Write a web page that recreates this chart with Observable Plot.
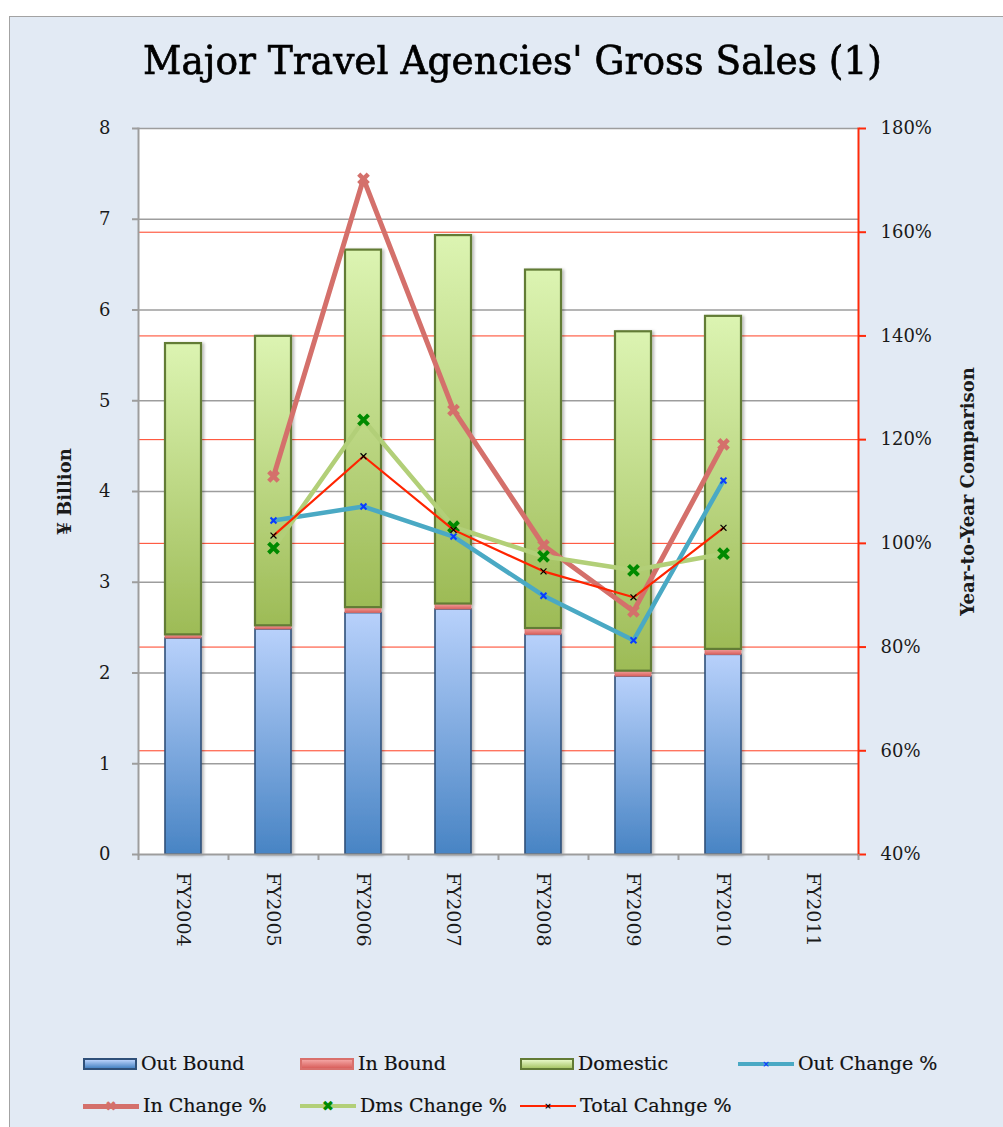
<!DOCTYPE html>
<html>
<head>
<meta charset="utf-8">
<script src="https://cdn.jsdelivr.net/npm/d3@7"></script>
<script src="https://cdn.jsdelivr.net/npm/@observablehq/plot@0.6"></script>
<style>
  html, body { margin: 0; padding: 0; background: #ffffff; overflow: hidden; }
  body { width: 1003px; height: 1127px; position: relative; font-family: "DejaVu Serif", serif; color: #111; }
  #frame { position: absolute; left: 9px; top: 16px; width: 1100px; height: 1200px; background: #e2eaf4;
           border-left: 1.5px solid #a3a3a3; border-top: 1.5px solid #a3a3a3; }
  #title { position: absolute; left: 143px; top: 36px; white-space: nowrap; font-size: 40px; line-height: 48px;
           transform-origin: 0 0; color: #000; -webkit-text-stroke: 0.7px #000; }
  #chart { position: absolute; left: 0; top: 100px; }
  .lg { position: absolute; font-size: 19px; line-height: 22px; white-space: nowrap; color: #111; -webkit-text-stroke: 0.2px #111; }
  .sw { position: absolute; box-sizing: border-box; }
  .ln { position: absolute; }
  .mk { position: absolute; font-family: "DejaVu Sans", sans-serif; font-weight: bold; text-align: center; }
</style>
</head>
<body>
<div id="frame"></div>
<div id="title">Major Travel Agencies' Gross Sales (1)</div>
<div id="chart"></div>
<div id="legend"></div>
<script>
// ---------- data ----------
const years = ["FY2004", "FY2005", "FY2006", "FY2007", "FY2008", "FY2009", "FY2010", "FY2011"];
const outBound = [2.38, 2.48, 2.66, 2.70, 2.42, 1.96, 2.20];
const inBound  = [0.04, 0.04, 0.06, 0.06, 0.07, 0.06, 0.06];
const domestic = [3.21, 3.19, 3.94, 4.06, 3.95, 3.74, 3.67];

const changeYears = ["FY2005", "FY2006", "FY2007", "FY2008", "FY2009", "FY2010"];
const outChange   = [104.4, 107.1, 101.3, 89.9, 81.3, 112.1];
const inChange    = [112.9, 170.3, 125.7, 99.6, 86.9, 119.1];
const dmsChange   = [99.1, 123.8, 103.2, 97.5, 94.8, 98.0];
const totalChange = [101.5, 116.8, 102.6, 94.6, 89.6, 103.0];

const leftTicks = [0, 1, 2, 3, 4, 5, 6, 7, 8];
const pctTicks  = [40, 60, 80, 100, 120, 140, 160, 180];

const barSeries  = ["Out Bound", "In Bound", "Domestic"];
const lineSeries = ["Out Change %", "In Change %", "Dms Change %", "Total Cahnge %"];

// ---------- helpers ----------
// right axis (percent, 40..180) mapped onto left axis units (0..8)
const pMin = pctTicks[0], pMax = pctTicks[pctTicks.length - 1], yMax = leftTicks[leftTicks.length - 1];
const toY = p => (p - pMin) / (pMax - pMin) * yMax;
const fromY = v => v / yMax * (pMax - pMin) + pMin;

const barValues = [outBound, inBound, domestic];
const barRows = [];
years.forEach((yr, i) => {
  barSeries.forEach((s, k) => {
    if (barValues[k][i] != null) barRows.push({year: yr, series: s, value: barValues[k][i]});
  });
});
const fillBy = {"Out Bound": "url(#gOut)", "In Bound": "url(#gIn)", "Domestic": "url(#gDom)"};
const strokeBy = {"Out Bound": "#2f5079", "In Bound": "#d9706c", "Domestic": "#627b35"};

const rowsOf = vals => changeYears.map((yr, i) => ({year: yr, v: toY(vals[i])}));

const lineStyle = {
  "Out Change %":   {vals: outChange,   line: "#4aa9c4", lw: 4.5, mk: "#0a3cff", r: 2.8, mw: 2},
  "In Change %":    {vals: inChange,    line: "#d4706b", lw: 5,   mk: "#d4706b", r: 4.4, mw: 4.5},
  "Dms Change %":   {vals: dmsChange,   line: "#b2cf78", lw: 4.5, mk: "#008a00", r: 4.6, mw: 4},
  "Total Cahnge %": {vals: totalChange, line: "#ff2400", lw: 2.2, mk: "#000000", r: 2.8, mw: 1.2}
};

const lineMarks = [];
lineSeries.forEach(s => {
  const st = lineStyle[s];
  const rows = rowsOf(st.vals);
  lineMarks.push(Plot.line(rows, {x: "year", y: "v", stroke: st.line, strokeWidth: st.lw, strokeLinejoin: "round"}));
  lineMarks.push(Plot.dot(rows, {x: "year", y: "v", symbol: "times", r: st.r, stroke: st.mk, strokeWidth: st.mw}));
});

const gray = "#9d9d9d", red = "#ff2a0a";

const chart = Plot.plot({
  width: 1003,
  height: 940,
  marginLeft: 138,
  marginRight: 145,
  marginTop: 28,
  marginBottom: 186,
  style: {background: "transparent", fontFamily: "'DejaVu Serif', serif", fontSize: "18px", color: "#1a1a1a", overflow: "visible"},
  x: {type: "band", domain: years, paddingInner: 0.6, paddingOuter: 0.3, axis: null},
  y: {domain: [0, 8], axis: null},
  color: {type: "identity"},
  marks: [
    Plot.frame({fill: "white", stroke: "none"}),
    Plot.ruleY(pctTicks.slice(1, -1).map(toY), {stroke: red, strokeWidth: 1, strokeOpacity: 0.9}),
    Plot.ruleY(leftTicks.slice(1), {stroke: gray, strokeWidth: 1.5}),
    Plot.barY(barRows, Plot.stackY({
      x: "year", y: "value",
      fill: d => fillBy[d.series],
      stroke: d => strokeBy[d.series],
      strokeWidth: 1.6
    })),
    ...lineMarks,
    Plot.ruleY([0], {stroke: gray, strokeWidth: 2}),
    Plot.frame({anchor: "left", stroke: gray, strokeWidth: 2}),
    Plot.frame({anchor: "right", stroke: red, strokeWidth: 2}),
    Plot.axisY(leftTicks, {anchor: "left", tickSize: 6, tickPadding: 22, stroke: gray, strokeWidth: 2, fontSize: 18, label: null,
      tickFormat: d => String(d)}),
    Plot.axisY(pctTicks.map(toY), {anchor: "right", tickSize: 7, tickPadding: 15, stroke: red, strokeWidth: 2, fontSize: 18, label: null,
      tickFormat: d => Math.round(fromY(d)) + "%"}),
    Plot.axisX(years, {anchor: "bottom", tickSize: 0, tickPadding: 18, tickRotate: 90, fontSize: 19, label: null}),
    Plot.axisX(years, {anchor: "bottom", tickSize: 6, dx: -45, stroke: gray, strokeWidth: 2, tickFormat: () => "", label: null}),
    Plot.axisX(years.slice(-1), {anchor: "bottom", tickSize: 6, dx: 45, stroke: gray, strokeWidth: 2, tickFormat: () => "", label: null}),
    Plot.text(["¥ Billion"], {frameAnchor: "left", dx: -73, rotate: -90, textAnchor: "middle", fontWeight: "bold", fontSize: 18}),
    Plot.text(["Year-to-Year Comparison"], {frameAnchor: "right", dx: 110, rotate: -90, textAnchor: "middle", fontWeight: "bold", fontSize: 18})
  ]
});

// gradients + shadow
chart.insertAdjacentHTML("afterbegin", `
<defs>
  <linearGradient id="gOut" x1="0" y1="0" x2="0" y2="1">
    <stop offset="0" stop-color="#b8d1fb"/><stop offset="1" stop-color="#4884c4"/>
  </linearGradient>
  <linearGradient id="gIn" x1="0" y1="0" x2="0" y2="1">
    <stop offset="0" stop-color="#f3a4a2"/><stop offset="1" stop-color="#d9605c"/>
  </linearGradient>
  <linearGradient id="gDom" x1="0" y1="0" x2="0" y2="1">
    <stop offset="0" stop-color="#dcf4b2"/><stop offset="1" stop-color="#9dbb56"/>
  </linearGradient>
  <filter id="shadow" x="-20%" y="-5%" width="150%" height="115%">
    <feDropShadow dx="2" dy="1" stdDeviation="1.6" flood-color="#000" flood-opacity="0.28"/>
  </filter>
</defs>`);
const barG = chart.querySelector('g[aria-label="bar"]');
if (barG) barG.setAttribute("filter", "url(#shadow)");
if (barG) barG.querySelectorAll("rect").forEach(r => {
  const s = r.getAttribute("stroke");
  if (s === strokeBy["Domestic"]) r.setAttribute("stroke-width", 2.2);
  if (s === strokeBy["In Bound"]) r.setAttribute("stroke-width", 0.8);
});
document.getElementById("chart").appendChild(chart);

// title width fit
const title = document.getElementById("title");
const tw = title.getBoundingClientRect().width;
title.style.transform = `scaleX(${739 / tw})`;

// ---------- legend ----------
const legend = document.getElementById("legend");
const barGrad = {
  "Out Bound": "linear-gradient(#b8d1fb, #4884c4)",
  "In Bound": "linear-gradient(#f3a4a2, #d9605c)",
  "Domestic": "linear-gradient(#e6f7c6, #a9c669)"
};
const legendPos = [
  {name: "Out Bound", kind: "bar", x: 83, y: 1064},
  {name: "In Bound", kind: "bar", x: 300, y: 1064},
  {name: "Domestic", kind: "bar", x: 520, y: 1064},
  {name: "Out Change %", kind: "line", x: 738, y: 1064},
  {name: "In Change %", kind: "line", x: 83, y: 1106},
  {name: "Dms Change %", kind: "line", x: 300, y: 1106},
  {name: "Total Cahnge %", kind: "line", x: 520, y: 1106}
];
legendPos.forEach(it => {
  if (it.kind === "bar") {
    const sw = document.createElement("div");
    sw.className = "sw";
    Object.assign(sw.style, {left: it.x + "px", top: (it.y - 6) + "px", width: "54px", height: "12px",
      background: barGrad[it.name], border: `2px solid ${strokeBy[it.name]}`});
    legend.appendChild(sw);
  } else {
    const st = lineStyle[it.name];
    const ln = document.createElement("div");
    ln.className = "ln";
    Object.assign(ln.style, {left: it.x + "px", top: (it.y - st.lw / 2) + "px", width: "56px", height: st.lw + "px", background: st.line});
    legend.appendChild(ln);
    const mk = document.createElement("div");
    mk.className = "mk";
    const fs = st.r * 3.2;
    Object.assign(mk.style, {left: (it.x + 28 - 10) + "px", top: (it.y - 10) + "px", width: "20px", height: "20px",
      lineHeight: "20px", fontSize: fs + "px", color: st.mk});
    mk.textContent = st.mw >= 3 ? "✖" : "×";
    legend.appendChild(mk);
  }
  const tx = document.createElement("div");
  tx.className = "lg";
  tx.style.left = (it.x + (it.kind === "bar" ? 58 : 60)) + "px";
  tx.style.top = (it.y - 12) + "px";
  tx.textContent = it.name;
  legend.appendChild(tx);
});
</script>
</body>
</html>
